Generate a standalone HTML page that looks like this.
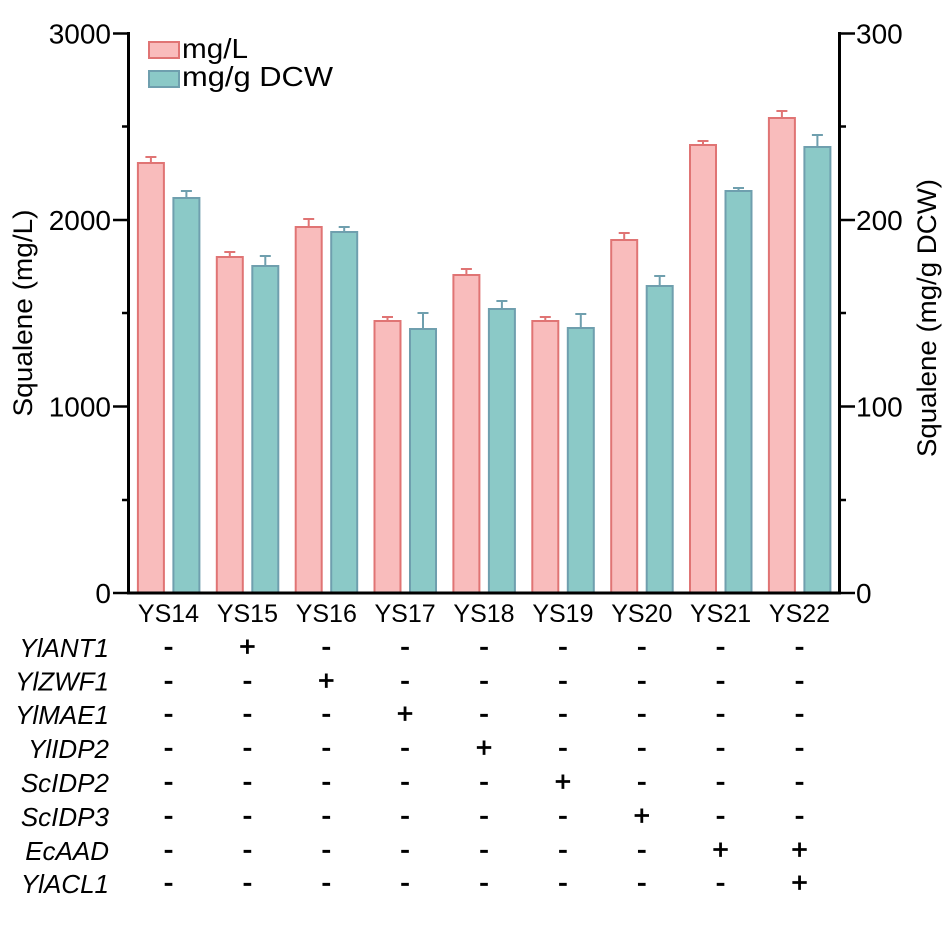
<!DOCTYPE html>
<html><head><meta charset="utf-8"><style>
html,body{margin:0;padding:0;background:#fff;}
svg{display:block;}
text{font-family:"Liberation Sans",Arial,sans-serif;fill:#000;}
</style></head><body>
<svg width="945" height="945" viewBox="0 0 945 945" xmlns="http://www.w3.org/2000/svg">
<rect width="945" height="945" fill="#fff"/>
<!-- bars -->
<g stroke-width="2">
<g fill="#f9bcbc" stroke="#e07474">
<rect x="137.9" y="163" width="26" height="430"/>
<rect x="216.8" y="257" width="26" height="336"/>
<rect x="295.7" y="227" width="26" height="366"/>
<rect x="374.5" y="321" width="26" height="272"/>
<rect x="453.4" y="275" width="26" height="318"/>
<rect x="532.3" y="321" width="26" height="272"/>
<rect x="611.2" y="240" width="26" height="353"/>
<rect x="690.0" y="145" width="26" height="448"/>
<rect x="768.9" y="118" width="26" height="475"/>
</g>
<g stroke="#e07474" fill="none">
<path d="M150.9 163V157M145.4 157H156.4"/>
<path d="M229.8 257V252M224.3 252H235.3"/>
<path d="M308.7 227V219M303.2 219H314.2"/>
<path d="M387.5 321V317M382 317H393"/>
<path d="M466.4 275V269M460.9 269H471.9"/>
<path d="M545.3 321V317M539.8 317H550.8"/>
<path d="M624.2 240V233M618.7 233H629.7"/>
<path d="M703.0 145V141M697.5 141H708.5"/>
<path d="M781.9 118V111M776.4 111H787.4"/>
</g>
<g fill="#8bc9c7" stroke="#6f9fae">
<rect x="173.4" y="198" width="26" height="395"/>
<rect x="252.3" y="266" width="26" height="327"/>
<rect x="331.2" y="232" width="26" height="361"/>
<rect x="410.0" y="329" width="26" height="264"/>
<rect x="488.9" y="309" width="26" height="284"/>
<rect x="567.8" y="328" width="26" height="265"/>
<rect x="646.7" y="286" width="26" height="307"/>
<rect x="725.5" y="191" width="26" height="402"/>
<rect x="804.4" y="147" width="26" height="446"/>
</g>
<g stroke="#6f9fae" fill="none">
<path d="M186.4 198V191M180.9 191H191.9"/>
<path d="M265.3 266V256M259.8 256H270.8"/>
<path d="M344.2 232V227M338.7 227H349.7"/>
<path d="M423.0 329V313M417.5 313H428.5"/>
<path d="M501.9 309V301M496.4 301H507.4"/>
<path d="M580.8 328V314M575.3 314H586.3"/>
<path d="M659.7 286V276M654.2 276H665.2"/>
<path d="M738.5 191V188M733 188H744"/>
<path d="M817.4 147V135M811.9 135H822.9"/>
</g>
</g>
<!-- axes -->
<g stroke="#000" fill="none">
<path d="M128.5 32V594.5M127 593H841M839.5 32V594.5" stroke-width="3"/>
<path d="M113 33.5H129M113 220H129M113 406.5H129M113 593H129M122 126.5H129M122 313H129M122 500H129" stroke-width="2.5"/>
<path d="M839 33.5H855M839 220H855M839 406.5H855M839 593H855M839 126.5H846M839 313H846M839 500H846" stroke-width="2.5"/>
</g>
<!-- tick labels -->
<g font-size="28" text-anchor="end">
<text x="111" y="43.5">3000</text>
<text x="111" y="230">2000</text>
<text x="111" y="416.5">1000</text>
<text x="111" y="603">0</text>
</g>
<g font-size="28" text-anchor="start">
<text x="856" y="43.5">300</text>
<text x="856" y="230">200</text>
<text x="856" y="416.5">100</text>
<text x="856" y="603">0</text>
</g>
<!-- axis titles -->
<text transform="translate(32,313) rotate(-90)" font-size="27" text-anchor="middle" textLength="207" lengthAdjust="spacingAndGlyphs">Squalene (mg/L)</text>
<text transform="translate(936,318) rotate(-90)" font-size="27" text-anchor="middle" textLength="278" lengthAdjust="spacingAndGlyphs">Squalene (mg/g DCW)</text>
<!-- legend -->
<rect x="149" y="42" width="30" height="16" fill="#f9bcbc" stroke="#e07474" stroke-width="2"/>
<rect x="149" y="71" width="30" height="16" fill="#8bc9c7" stroke="#6f9fae" stroke-width="2"/>
<text x="182" y="58" font-size="28" textLength="66" lengthAdjust="spacingAndGlyphs">mg/L</text>
<text x="182" y="86" font-size="28" textLength="151" lengthAdjust="spacingAndGlyphs">mg/g DCW</text>
<!-- x labels -->
<g font-size="25" text-anchor="middle">
<text x="168.5" y="622">YS14</text>
<text x="247.4" y="622">YS15</text>
<text x="326.3" y="622">YS16</text>
<text x="405.1" y="622">YS17</text>
<text x="484" y="622">YS18</text>
<text x="562.9" y="622">YS19</text>
<text x="641.8" y="622">YS20</text>
<text x="720.6" y="622">YS21</text>
<text x="799.5" y="622">YS22</text>
</g>
<!-- gene labels -->
<g font-size="26" font-style="italic" text-anchor="end">
<text x="109" y="657">YlANT1</text>
<text x="109" y="690.5">YlZWF1</text>
<text x="109" y="724">YlMAE1</text>
<text x="109" y="758">YlIDP2</text>
<text x="109" y="792">ScIDP2</text>
<text x="109" y="826">ScIDP3</text>
<text x="109" y="860">EcAAD</text>
<text x="109" y="893">YlACL1</text>
</g>
<!-- +/- table -->
<g font-size="28" text-anchor="middle" stroke="#000" stroke-width="0.8">
<text x="168.5" y="656">-</text><text x="247.4" y="656">+</text><text x="326.3" y="656">-</text><text x="405.1" y="656">-</text><text x="484" y="656">-</text><text x="562.9" y="656">-</text><text x="641.8" y="656">-</text><text x="720.6" y="656">-</text><text x="799.5" y="656">-</text>
<text x="168.5" y="690">-</text><text x="247.4" y="690">-</text><text x="326.3" y="690">+</text><text x="405.1" y="690">-</text><text x="484" y="690">-</text><text x="562.9" y="690">-</text><text x="641.8" y="690">-</text><text x="720.6" y="690">-</text><text x="799.5" y="690">-</text>
<text x="168.5" y="723">-</text><text x="247.4" y="723">-</text><text x="326.3" y="723">-</text><text x="405.1" y="723">+</text><text x="484" y="723">-</text><text x="562.9" y="723">-</text><text x="641.8" y="723">-</text><text x="720.6" y="723">-</text><text x="799.5" y="723">-</text>
<text x="168.5" y="757">-</text><text x="247.4" y="757">-</text><text x="326.3" y="757">-</text><text x="405.1" y="757">-</text><text x="484" y="757">+</text><text x="562.9" y="757">-</text><text x="641.8" y="757">-</text><text x="720.6" y="757">-</text><text x="799.5" y="757">-</text>
<text x="168.5" y="791">-</text><text x="247.4" y="791">-</text><text x="326.3" y="791">-</text><text x="405.1" y="791">-</text><text x="484" y="791">-</text><text x="562.9" y="791">+</text><text x="641.8" y="791">-</text><text x="720.6" y="791">-</text><text x="799.5" y="791">-</text>
<text x="168.5" y="825">-</text><text x="247.4" y="825">-</text><text x="326.3" y="825">-</text><text x="405.1" y="825">-</text><text x="484" y="825">-</text><text x="562.9" y="825">-</text><text x="641.8" y="825">+</text><text x="720.6" y="825">-</text><text x="799.5" y="825">-</text>
<text x="168.5" y="859">-</text><text x="247.4" y="859">-</text><text x="326.3" y="859">-</text><text x="405.1" y="859">-</text><text x="484" y="859">-</text><text x="562.9" y="859">-</text><text x="641.8" y="859">-</text><text x="720.6" y="859">+</text><text x="799.5" y="859">+</text>
<text x="168.5" y="892">-</text><text x="247.4" y="892">-</text><text x="326.3" y="892">-</text><text x="405.1" y="892">-</text><text x="484" y="892">-</text><text x="562.9" y="892">-</text><text x="641.8" y="892">-</text><text x="720.6" y="892">-</text><text x="799.5" y="892">+</text>
</g>
</svg>
</body></html>
